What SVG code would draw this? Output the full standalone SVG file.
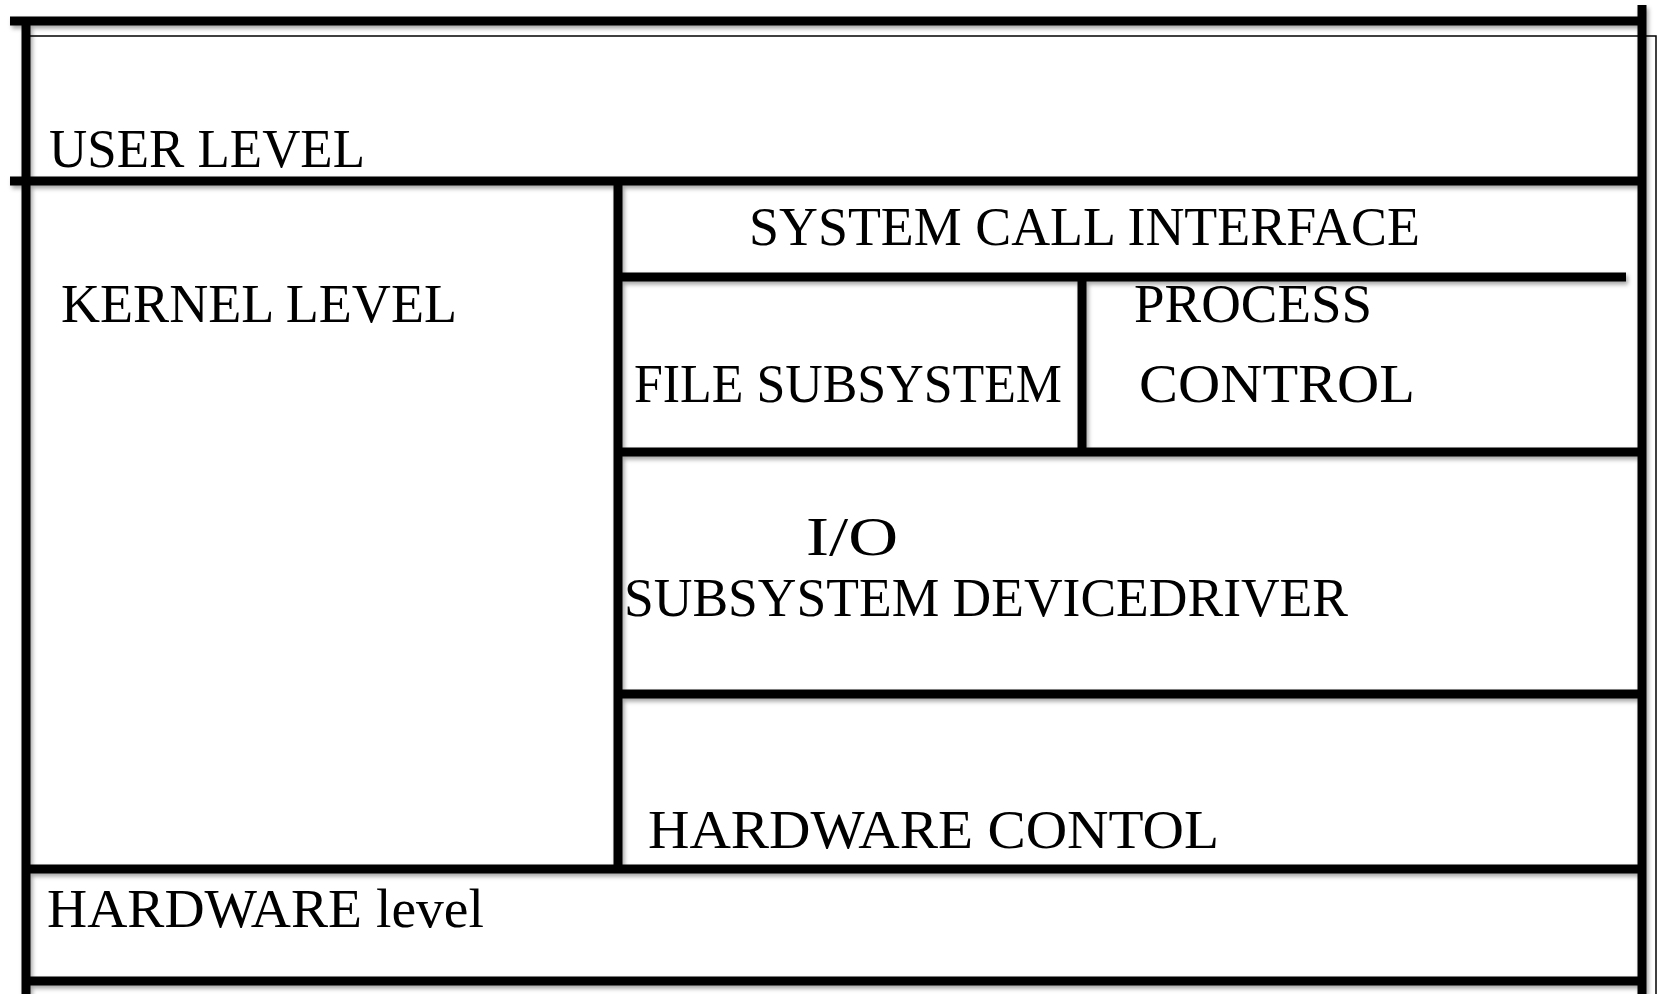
<svg xmlns="http://www.w3.org/2000/svg" width="1658" height="994" viewBox="0 0 1658 994">
  <defs>
    <filter id="soft-shadow" x="-5%" y="-5%" width="110%" height="110%">
      <feDropShadow dx="2" dy="3" stdDeviation="2" flood-color="#000" flood-opacity="0.35"/>
    </filter>
    <style>
      .rule { stroke: #000; stroke-width: 9; fill: none; stroke-linecap: butt; }
      .hair { stroke: #000; stroke-width: 1.5; fill: none; }
      .label { font-family: "Liberation Serif", "Times New Roman", serif; font-size: 54px; fill: #000; }
    </style>
  </defs>

  <rect width="1658" height="994" fill="#fff"/>

  <!-- frame rules dividing the layers -->
  <g id="rules">
    <polyline class="hair" points="30,36 1656,36 1656,994"/>
    <g filter="url(#soft-shadow)">
      <line class="rule" x1="10" y1="21" x2="1640" y2="21"/>
      <line class="rule" x1="26" y1="21" x2="26" y2="994"/>
      <line class="rule" x1="1642" y1="5" x2="1642" y2="994"/>
      <line class="rule" x1="10" y1="181" x2="1642" y2="181"/>
      <line class="rule" x1="618" y1="181" x2="618" y2="869"/>
      <line class="rule" x1="618" y1="277" x2="1626" y2="277"/>
      <line class="rule" x1="1082" y1="277" x2="1082" y2="452"/>
      <line class="rule" x1="618" y1="452" x2="1642" y2="452"/>
      <line class="rule" x1="618" y1="694" x2="1642" y2="694"/>
      <line class="rule" x1="26" y1="869" x2="1642" y2="869"/>
      <line class="rule" x1="26" y1="981" x2="1642" y2="981"/>
    </g>
  </g>

  <g id="user-level">
    <text class="label" x="49" y="167" textLength="316" lengthAdjust="spacingAndGlyphs">USER LEVEL</text>
  </g>

  <g id="kernel-level">
    <text class="label" x="61" y="322" textLength="396" lengthAdjust="spacingAndGlyphs">KERNEL LEVEL</text>
  </g>

  <g id="system-call-interface">
    <text class="label" x="749" y="245" textLength="671" lengthAdjust="spacingAndGlyphs">SYSTEM CALL INTERFACE</text>
  </g>

  <g id="file-subsystem">
    <text class="label" x="634" y="402" textLength="428" lengthAdjust="spacingAndGlyphs">FILE SUBSYSTEM</text>
  </g>

  <g id="process-control">
    <text class="label" x="1134" y="322" textLength="238" lengthAdjust="spacingAndGlyphs">PROCESS</text>
    <text class="label" x="1139" y="402" textLength="276" lengthAdjust="spacingAndGlyphs">CONTROL</text>
  </g>

  <g id="io-subsystem">
    <text class="label" x="806" y="555" textLength="92" lengthAdjust="spacingAndGlyphs">I/O</text>
    <text class="label" x="624" y="616" textLength="724" lengthAdjust="spacingAndGlyphs">SUBSYSTEM DEVICEDRIVER</text>
  </g>

  <g id="hardware-control">
    <text class="label" x="648" y="848" textLength="571" lengthAdjust="spacingAndGlyphs">HARDWARE CONTOL</text>
  </g>

  <g id="hardware-level">
    <text class="label" x="47" y="927" textLength="437" lengthAdjust="spacingAndGlyphs">HARDWARE level</text>
  </g>
</svg>
